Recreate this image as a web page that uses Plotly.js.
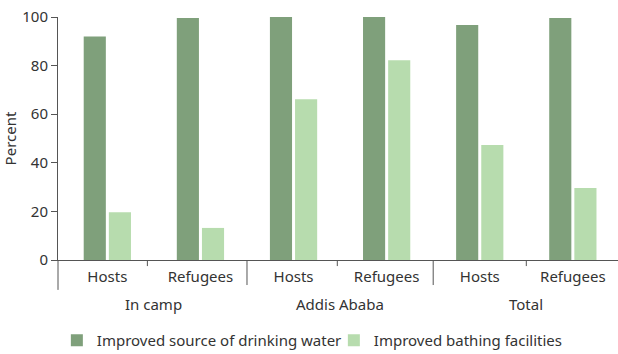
<!DOCTYPE html>
<html>
<head>
<meta charset="utf-8">
<script src="https://cdn.plot.ly/plotly-3.0.1.min.js"></script>
<style>html,body{margin:0;padding:0;background:#fff;}#chart{width:618px;height:354px;}</style>
</head>
<body>
<div id="chart"></div>
<script>
const subLabels = ["Hosts", "Refugees", "Hosts", "Refugees", "Hosts", "Refugees"];
const groupLabels = ["In camp", "Addis Ababa", "Total"];
const drinkingWater = [92, 99.6, 100, 100, 96.7, 99.6];
const bathing = [19.7, 13.2, 66.2, 82.2, 47.3, 29.6];
const seriesNames = ["Improved source of drinking water", "Improved bathing facilities"];

const xs = subLabels.map((_, i) => i);
const FONT = "Noto Sans, sans-serif";
const TXT = "#333333";
const LINE = "#555555";

const traces = [
  {type: "bar", name: seriesNames[0], x: xs, y: drinkingWater, marker: {color: "#7fa07b"}, hoverinfo: "y"},
  {type: "bar", name: seriesNames[1], x: xs, y: bathing, marker: {color: "#b7dcae"}, hoverinfo: "y"}
];

const annotations = groupLabels.map((g, i) => ({
  text: g, xref: "x", yref: "paper", x: 2 * i + 0.5, y: -0.18,
  xanchor: "center", yanchor: "middle", showarrow: false,
  font: {family: FONT, size: 15, color: TXT}
}));

const lineStyle = {color: LINE, width: 1};
const shapes = [
  {type: "line", xref: "paper", yref: "paper", x0: 0, x1: 0, y0: 0, y1: -0.123, line: lineStyle},
  {type: "line", xref: "x", yref: "paper", x0: 1.5, x1: 1.5, y0: 0, y1: -0.103, line: lineStyle},
  {type: "line", xref: "x", yref: "paper", x0: 3.5, x1: 3.5, y0: 0, y1: -0.103, line: lineStyle},
  {type: "line", xref: "x", yref: "paper", x0: 0.43, x1: 0.43, y0: 0, y1: -0.025, line: lineStyle},
  {type: "line", xref: "x", yref: "paper", x0: 2.47, x1: 2.47, y0: 0, y1: -0.025, line: lineStyle},
  {type: "line", xref: "x", yref: "paper", x0: 4.5, x1: 4.5, y0: 0, y1: -0.025, line: lineStyle}
];

const layout = {
  width: 618, height: 354,
  margin: {l: 58, r: 0, t: 17, b: 94},
  paper_bgcolor: "#ffffff", plot_bgcolor: "#ffffff",
  font: {family: FONT, size: 15, color: TXT},
  barmode: "group", bargap: 0.46, bargroupgap: 0.12,
  showlegend: true,
  legend: {orientation: "h", xref: "container", yref: "container", x: 0.092, y: 0.038,
           xanchor: "left", yanchor: "middle", entrywidth: 232,
           font: {family: FONT, size: 15, color: TXT}},
  xaxis: {
    range: [-0.53, 5.485], tickmode: "array", tickvals: xs, ticktext: subLabels,
    ticks: "", ticklabelstandoff: 3, showline: true, linecolor: LINE, linewidth: 1, showgrid: false, zeroline: false,
    tickfont: {family: FONT, size: 15, color: TXT}, fixedrange: true
  },
  yaxis: {
    range: [0, 100], dtick: 20, ticks: "outside", ticklen: 6, tickcolor: LINE,
    showline: true, linecolor: LINE, linewidth: 1, showgrid: false, zeroline: false,
    tickfont: {family: FONT, size: 15, color: TXT},
    title: {text: "Percent", font: {family: FONT, size: 15, color: TXT}, standoff: 3},
    fixedrange: true
  },
  annotations: annotations,
  shapes: shapes
};

Plotly.newPlot("chart", traces, layout, {displayModeBar: false, staticPlot: true});
</script>
</body>
</html>
